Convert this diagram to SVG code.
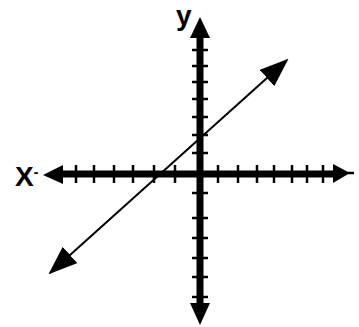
<svg xmlns="http://www.w3.org/2000/svg" width="359" height="327" viewBox="0 0 359 327">
  <style>
    .axis { stroke: #000; stroke-width: 7; fill: none; }
    .tick { stroke: #000; stroke-width: 2.5; fill: none; }
    .head { fill: #000; stroke: none; }
    .line { stroke: #000; stroke-width: 2; fill: none; }
    .lbl { font-family: "Liberation Sans", Arial, sans-serif; font-weight: bold; fill: #000; }
  </style>
  <defs>
    <marker id="arr" viewBox="0 0 29 22" refX="27" refY="11" markerWidth="29" markerHeight="22" markerUnits="userSpaceOnUse" orient="auto-start-reverse">
      <path d="M0,0 L29,11 L0,22 z" fill="#000"/>
    </marker>
  </defs>
  <rect width="359" height="327" fill="#fff"/>
  <g id="x-axis">
    <line class="axis" x1="55" y1="174" x2="338" y2="174"/>
    <polygon class="head" points="43,175 63,165 63,184"/>
    <polygon class="head" points="350,173 333,164 333,183"/>
    <line class="tick" x1="348" y1="173" x2="354" y2="173"/>
    <g class="tick">
      <line x1="76" y1="165" x2="76" y2="183"/>
      <line x1="94" y1="165" x2="94" y2="183"/>
      <line x1="114" y1="165" x2="114" y2="183"/>
      <line x1="133" y1="165" x2="133" y2="183"/>
      <line x1="154" y1="165" x2="154" y2="183"/>
      <line x1="175" y1="165" x2="175" y2="183"/>
      <line x1="218" y1="165" x2="218" y2="183"/>
      <line x1="238" y1="165" x2="238" y2="183"/>
      <line x1="257" y1="165" x2="257" y2="183"/>
      <line x1="274" y1="165" x2="274" y2="183"/>
      <line x1="292" y1="165" x2="292" y2="183"/>
      <line x1="307" y1="165" x2="307" y2="183"/>
      <line x1="323" y1="165" x2="323" y2="183"/>
    </g>
  </g>
  <g id="y-axis">
    <line class="axis" x1="200" y1="32" x2="200" y2="310"/>
    <polygon class="head" points="200,17 210,38 190,38"/>
    <polygon class="head" points="200,325 190,303 210,303"/>
    <g class="tick">
      <line x1="192" y1="50" x2="208" y2="50"/>
      <line x1="192" y1="66" x2="208" y2="66"/>
      <line x1="192" y1="82" x2="208" y2="82"/>
      <line x1="192" y1="99" x2="208" y2="99"/>
      <line x1="192" y1="117" x2="208" y2="117"/>
      <line x1="192" y1="135" x2="208" y2="135"/>
      <line x1="192" y1="153" x2="208" y2="153"/>
      <line x1="192" y1="193" x2="208" y2="193"/>
      <line x1="192" y1="218" x2="208" y2="218"/>
      <line x1="192" y1="238" x2="208" y2="238"/>
      <line x1="192" y1="258" x2="208" y2="258"/>
      <line x1="192" y1="277" x2="208" y2="277"/>
      <line x1="192" y1="297" x2="208" y2="297"/>
    </g>
  </g>
  <g id="connectors">
    <line class="line" x1="50" y1="273" x2="287" y2="60" marker-start="url(#arr)" marker-end="url(#arr)"/>
  </g>
  <g id="labels">
    <text class="lbl" x="176" y="25" font-size="28">y</text>
    <text class="lbl" x="15" y="186" font-size="28">X<tspan font-size="14" dy="-9">-</tspan></text>
  </g>
</svg>
